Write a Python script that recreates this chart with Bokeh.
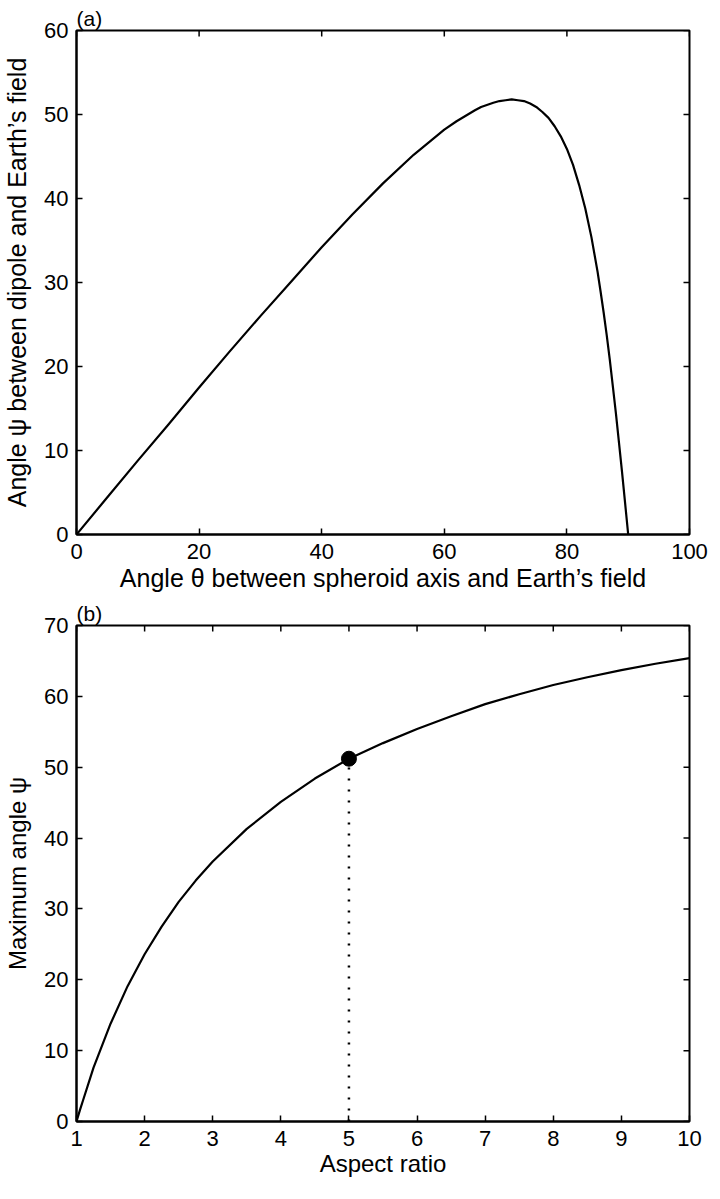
import math
from bokeh.plotting import figure
from bokeh.layouts import column
from bokeh.models import Range1d, FixedTicker
from bokeh.embed import file_html
from bokeh.resources import INLINE

# ---- panel (a): angle psi between dipole and Earth's field vs theta ----
theta = [0, 5, 10, 15, 20, 25, 30, 35, 40, 45, 50, 55, 60, 62, 65, 66, 68, 69,
         70, 71, 72, 73, 74, 75, 76, 77, 78, 79, 80, 81, 82, 83, 84, 85, 85.5,
         86, 86.5, 87, 87.5, 88, 88.5, 89, 89.5, 90]
psi = [0, 4.4, 8.8, 13.1, 17.5, 21.8, 26.0, 30.1, 34.2, 38.1, 41.8, 45.2, 48.2,
       49.2, 50.5, 50.9, 51.4, 51.6, 51.7, 51.8, 51.7, 51.6, 51.3, 50.9, 50.3,
       49.6, 48.6, 47.4, 45.9, 44.0, 41.6, 38.8, 35.4, 31.3, 28.9, 26.4, 23.7,
       20.8, 17.6, 14.4, 10.9, 7.4, 3.7, 0]

# ---- panel (b): maximum angle psi vs aspect ratio ----
aspect = [1, 1.05, 1.1, 1.25, 1.5, 1.75, 2, 2.25, 2.5, 2.75, 3, 3.5, 4, 4.5, 5,
          5.5, 6, 6.5, 7, 7.5, 8, 8.5, 9, 9.5, 10]
max_psi = [0, 1.6, 3.1, 7.6, 13.8, 19.1, 23.6, 27.5, 31.0, 34.0, 36.7, 41.3,
           45.1, 48.4, 51.2, 53.4, 55.4, 57.2, 58.9, 60.3, 61.6, 62.7, 63.7,
           64.6, 65.4]
marker_aspect = [5]
marker_psi = [51.2]

a_xticks = [0, 20, 40, 60, 80, 100]
a_yticks = [0, 10, 20, 30, 40, 50, 60]
b_xticks = [1, 2, 3, 4, 5, 6, 7, 8, 9, 10]
b_yticks = [0, 10, 20, 30, 40, 50, 60, 70]

FONT = "Liberation Sans"
TICK_FS = "22px"


def style_axis(ax, label_fs):
    ax.axis_line_color = "black"
    ax.axis_line_width = 2
    ax.major_tick_in = 6
    ax.major_tick_out = 0
    ax.major_tick_line_width = 1.5
    ax.major_tick_line_color = "black"
    ax.minor_tick_in = 0
    ax.minor_tick_out = 0
    ax.major_label_text_font = FONT
    ax.major_label_text_font_size = TICK_FS
    ax.major_label_text_color = "black"
    ax.axis_label_text_font = FONT
    ax.axis_label_text_font_style = "normal"
    ax.axis_label_text_font_size = label_fs
    ax.axis_label_text_color = "black"


def make_panel(xr, yr, xt, yt, xlabel, ylabel, title, w, h, borders, label_fs,
               x_standoffs):
    p = figure(width=w, height=h, x_range=Range1d(*xr), y_range=Range1d(*yr),
               output_backend="svg", toolbar_location=None,
               min_border_left=borders[0], min_border_right=borders[1],
               min_border_top=borders[2], min_border_bottom=borders[3])
    p.xgrid.visible = False
    p.ygrid.visible = False
    p.outline_line_color = "black"
    p.outline_line_width = 2
    p.background_fill_color = "white"
    p.border_fill_color = "white"
    p.xaxis.ticker = FixedTicker(ticks=xt)
    p.yaxis.ticker = FixedTicker(ticks=yt)
    p.xaxis.axis_label = xlabel
    p.yaxis.axis_label = ylabel
    for ax in p.xaxis + p.yaxis:
        style_axis(ax, label_fs)
    p.xaxis.major_label_standoff = x_standoffs[0]
    p.xaxis.axis_label_standoff = x_standoffs[1]
    p.yaxis.major_label_standoff = 8
    p.yaxis.axis_label_standoff = 10
    # mirrored inward ticks on the top and right edges (outer half clipped by frame)
    p.scatter(x=xt, y=[yr[1]] * len(xt), marker="dash", angle=math.pi / 2,
              size=12, line_color="black", line_width=1.5)
    p.scatter(x=[xr[1]] * len(yt), y=yt, marker="dash", angle=0,
              size=12, line_color="black", line_width=1.5)
    p.title.text = title
    p.title.align = "left"
    p.title.offset = 0
    p.title.standoff = 2
    p.title.text_font = FONT
    p.title.text_font_size = "21px"
    p.title.text_font_style = "normal"
    p.title.text_color = "black"
    return p


pa = make_panel((0, 100), (0, 60), a_xticks, a_yticks,
                "Angle \u03b8 between spheroid axis and Earth\u2019s field",
                "Angle \u03c8 between dipole and Earth\u2019s field",
                "(a)", 710, 598, (68, 21, 30, 64), "25px", (9, 2))
pa.line(theta, psi, line_color="black", line_width=2.2, line_join="round")

pb = make_panel((1, 10), (0, 70), b_xticks, b_yticks,
                "Aspect ratio", "Maximum angle \u03c8",
                "(b)", 710, 585, (68, 20, 25, 62), "24px", (9, 1))
pb.line(aspect, max_psi, line_color="black", line_width=2.2, line_join="round")
pb.segment(x0=marker_aspect, y0=[pb.y_range.start], x1=marker_aspect, y1=marker_psi,
           line_color="black", line_width=2.5, line_dash="2 9")
pb.scatter(marker_aspect, marker_psi, size=15, fill_color="black", line_color="black")

layout = column(pa, pb, spacing=0)
open("out.html", "w").write(file_html(layout, INLINE))
